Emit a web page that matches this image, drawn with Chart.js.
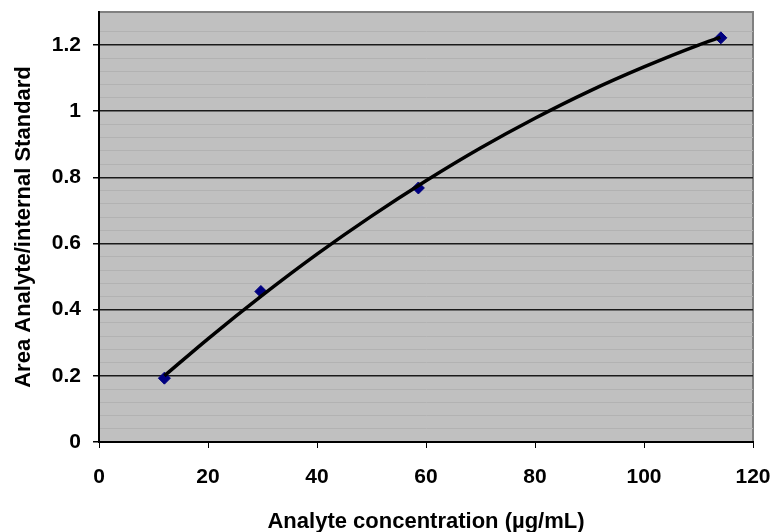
<!DOCTYPE html>
<html>
<head>
<meta charset="utf-8">
<script src="https://cdn.jsdelivr.net/npm/chart.js@4/dist/chart.umd.min.js"></script>
<style>
  html, body { margin: 0; padding: 0; background: #fff; }
  #wrap { width: 774px; height: 532px; }
</style>
</head>
<body>
<div id="wrap"><canvas id="chart"></canvas></div>
<script>
// measured standards
const concX = [12, 29.7, 58.6, 114.1];
const ratioY = [0.193, 0.455, 0.768, 1.222];

// trendline
const trendX = [12, 20, 30, 40, 50, 60, 70, 80, 90, 100, 110, 114];
const trendY = [0.200, 0.312, 0.444, 0.568, 0.683, 0.790, 0.889, 0.979, 1.061, 1.134, 1.200, 1.223];

const xTitle = "Analyte concentration (µg/mL)";
const yTitle = "Area Analyte/internal Standard";

const FONT = "'Liberation Sans', Arial, sans-serif";

const plotBg = {
    id: "plotBg",
    beforeDraw(chart) {
        const a = chart.chartArea;
        const c = chart.ctx;
        c.save();
        c.fillStyle = "#c0c0c0";
        c.fillRect(a.left, a.top, a.right - a.left, a.bottom - a.top);
        c.strokeStyle = "#808080";
        c.lineWidth = 2;
        c.beginPath();
        c.moveTo(a.left, a.top);
        c.lineTo(a.right, a.top);
        c.lineTo(a.right, a.bottom);
        c.stroke();
        c.restore();
    }
};

const isMajor = (v) => Math.round(v * 100) % 20 === 0;

new Chart(document.getElementById("chart"), {
    type: "scatter",
    data: {
        datasets: [
            {
                label: "trend",
                data: trendX.map((x, i) => ({ x: x, y: trendY[i] })),
                showLine: true,
                borderColor: "#000",
                borderWidth: 3.5,
                pointRadius: 0,
                cubicInterpolationMode: "monotone",
                order: 0
            },
            {
                label: "standards",
                data: concX.map((x, i) => ({ x: x, y: ratioY[i] })),
                showLine: false,
                pointStyle: "rectRot",
                pointRadius: 6,
                backgroundColor: "#000080",
                borderColor: "#000080",
                order: 1
            }
        ]
    },
    options: {
        responsive: true,
        maintainAspectRatio: false,
        animation: false,
        layout: { padding: { top: 12, right: 21, left: 0, bottom: 0 } },
        plugins: { legend: { display: false }, tooltip: { enabled: false } },
        scales: {
            x: {
                type: "linear",
                min: 0,
                max: 120,
                afterFit: (s) => {
                    s.height = 90;
                    s.paddingLeft = 0;
                    s.paddingRight = 0;
                },
                ticks: {
                    stepSize: 20,
                    color: "#000",
                    padding: 17,
                    font: { family: FONT, size: 21, weight: "bold" }
                },
                grid: { drawOnChartArea: false, tickLength: 6, color: "#000" },
                border: { color: "#000", width: 2 },
                title: {
                    display: true,
                    text: xTitle,
                    color: "#000",
                    padding: { top: 0, bottom: -3 },
                    font: { family: FONT, size: 22, weight: "bold" }
                }
            },
            y: {
                min: 0,
                max: 1.3,
                afterFit: (s) => {
                    s.width = 99;
                    s.paddingTop = 0;
                    s.paddingBottom = 0;
                },
                ticks: {
                    stepSize: 0.04,
                    autoSkip: false,
                    color: "#000",
                    padding: 12,
                    font: { family: FONT, size: 21, weight: "bold" },
                    callback: (v) => (isMajor(v) && v <= 1.2 ? String(Math.round(v * 10) / 10) : "")
                },
                grid: {
                    tickLength: 6,
                    color: (ctx) => {
                        const v = ctx.tick ? ctx.tick.value : 0;
                        if (v > 1.29) return "rgba(0,0,0,0)";
                        return isMajor(v) ? "#1a1a1a" : "#b2b2b2";
                    },
                    tickColor: (ctx) => {
                        const v = ctx.tick ? ctx.tick.value : 0;
                        return isMajor(v) && v <= 1.2 ? "#000" : "rgba(0,0,0,0)";
                    },
                    lineWidth: (ctx) => {
                        const v = ctx.tick ? ctx.tick.value : 0;
                        return isMajor(v) ? 1.5 : 1;
                    }
                },
                border: { color: "#000", width: 2 },
                title: {
                    display: true,
                    text: yTitle,
                    color: "#000",
                    padding: { top: 11, bottom: 0 },
                    font: { family: FONT, size: 22, weight: "bold" }
                }
            }
        }
    },
    plugins: [plotBg]
});
</script>
</body>
</html>
